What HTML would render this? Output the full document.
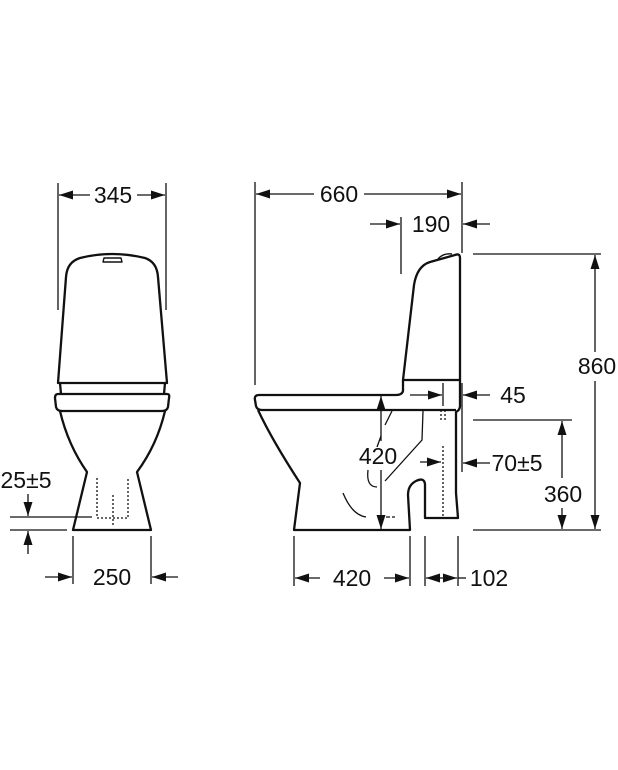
<!DOCTYPE html>
<html><head><meta charset="utf-8"><style>
html,body{margin:0;padding:0;background:#fff}
svg{display:block}
text{font-family:"Liberation Sans",sans-serif;font-size:23px;fill:#111}
</style></head><body>
<svg width="618" height="770" viewBox="0 0 618 770" xmlns="http://www.w3.org/2000/svg">
<defs>
<marker id="a" viewBox="0 0 14 9" refX="14" refY="4.5" markerWidth="14" markerHeight="9" markerUnits="userSpaceOnUse" orient="auto-start-reverse"><path d="M0,0L14,4.5L0,9z" fill="#111"/></marker>
</defs>
<g fill="none" stroke="#111" stroke-width="1.3">
<line x1="58" y1="183" x2="58" y2="310"/><line x1="166" y1="183" x2="166" y2="310"/>
<line x1="59" y1="195" x2="90" y2="195" marker-start="url(#a)"/>
<line x1="137" y1="195" x2="165" y2="195" marker-end="url(#a)"/>
<line x1="28" y1="494" x2="28" y2="516" marker-end="url(#a)"/>
<line x1="10" y1="517" x2="92" y2="517"/>
<line x1="10" y1="530" x2="67" y2="530"/>
<line x1="28" y1="554" x2="28" y2="531" marker-end="url(#a)"/>
<line x1="73" y1="536" x2="73" y2="584"/><line x1="151" y1="536" x2="151" y2="584"/>
<line x1="45" y1="577" x2="72" y2="577" marker-end="url(#a)"/>
<line x1="178" y1="577" x2="152" y2="577" marker-end="url(#a)"/>
<line x1="255" y1="182" x2="255" y2="385"/><line x1="462" y1="182" x2="462" y2="253"/>
<line x1="256" y1="194" x2="314" y2="194" marker-start="url(#a)"/>
<line x1="364" y1="194" x2="461" y2="194" marker-end="url(#a)"/>
<line x1="401" y1="217" x2="401" y2="274"/>
<line x1="370" y1="224" x2="400" y2="224" marker-end="url(#a)"/>
<line x1="490" y1="224" x2="463" y2="224" marker-end="url(#a)"/>
<line x1="462" y1="383" x2="462" y2="472"/>
<line x1="410" y1="395" x2="442" y2="395" marker-end="url(#a)"/>
<line x1="443" y1="383" x2="443" y2="406"/>
<line x1="490" y1="395" x2="463" y2="395" marker-end="url(#a)"/>
<line x1="420" y1="462" x2="441" y2="462" marker-end="url(#a)"/>
<line x1="490" y1="463" x2="463" y2="463" marker-end="url(#a)"/>
<line x1="381" y1="441" x2="381" y2="396" marker-end="url(#a)"/>
<line x1="381" y1="470" x2="381" y2="529" marker-end="url(#a)"/>
<line x1="473" y1="254" x2="601" y2="254"/><line x1="473" y1="530" x2="601" y2="530"/>
<line x1="473" y1="420" x2="572" y2="420"/>
<line x1="595" y1="352" x2="595" y2="255" marker-end="url(#a)"/>
<line x1="595" y1="381" x2="595" y2="529" marker-end="url(#a)"/>
<line x1="562" y1="478" x2="562" y2="421" marker-end="url(#a)"/>
<line x1="562" y1="508" x2="562" y2="529" marker-end="url(#a)"/>
<line x1="294" y1="536" x2="294" y2="586"/><line x1="410" y1="536" x2="410" y2="586"/>
<line x1="425" y1="536" x2="425" y2="586"/><line x1="458" y1="536" x2="458" y2="586"/>
<line x1="320" y1="578" x2="295" y2="578" marker-end="url(#a)"/>
<line x1="384" y1="578" x2="409" y2="578" marker-end="url(#a)"/>
<line x1="426" y1="578" x2="457" y2="578" marker-start="url(#a)" marker-end="url(#a)"/>
<line x1="458" y1="578" x2="466" y2="578"/>
<path d="M392,411 L385,425 M381,436 L377,447"/>
<path d="M368,470 Q366,487 377,487"/>
<path d="M423,411 L422,440 L385,481"/>
<path d="M343,493 Q352,515 366,517"/>
<path d="M386,517 L395,517" stroke-dasharray="4,2"/>
<path d="M443,446 L443,518 M441,410 L441,421 M445,410 L445,421" stroke-dasharray="2,2"/>
<path d="M97,478 L97,518 L128,518 L128,478 M113,495 L113,525" stroke-dasharray="2,2"/>
</g>
<g fill="none" stroke="#111" stroke-width="2.3" stroke-linejoin="round">
<path d="M58,383 L66,277 Q67,262 80,258 Q112,250 145,258 Q157,262 158,277 L167,383 Z"/>
<path d="M103,262 L104,258 L121,258 L122,262 Z" stroke-width="1.4"/>
<path d="M60,383 L61,394 M165,383 L164,394"/>
<path d="M58,394 L167,394 Q170,394 169,398 L168,407 Q167,411 162,411 L62,411 Q57,411 56,407 L55,398 Q55,394 58,394 Z"/>
<path d="M60,411 Q68,445 87,472 L73,530 L151,530 L137,472 Q157,445 165,411"/>
<path d="M403,380 L414,285 Q417,266 430,262 L455,255 Q460,253 460,258 L460,380 Z"/>
<path d="M438,259 Q443,253 452,254" stroke-width="1.4"/>
<path d="M460,380 L460,406 Q460,410 456,412 L456,493 L458,518 L425,518 L425,484 Q424,477 416,481 Q408,485 408,495 L410,530 L294,530 L300,483 Q272,440 258,410"/>
<path d="M403,380 L403,391 Q402,395 396,395 L259,395 Q254,395 255,400 L256,406 Q257,410 262,410 L456,410"/>
</g>
<g text-anchor="middle">
<text x="113" y="203">345</text>
<text x="112" y="585">250</text>
<text x="26" y="488">25±5</text>
<text x="339" y="202">660</text>
<text x="431" y="232">190</text>
<text x="378" y="464">420</text>
<text x="513" y="403">45</text>
<text x="517" y="471">70±5</text>
<text x="597" y="374">860</text>
<text x="563" y="502">360</text>
<text x="352" y="586">420</text>
<text x="489" y="586">102</text>
</g>
</svg>
</body></html>
